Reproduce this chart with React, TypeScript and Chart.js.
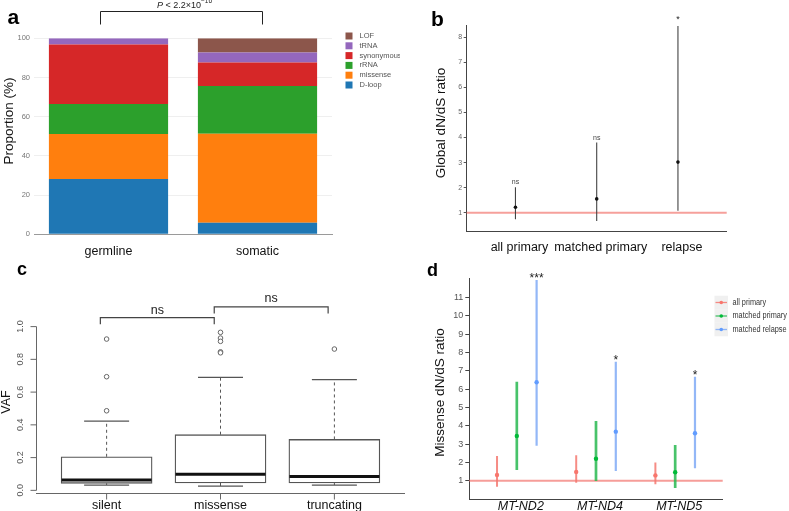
import React, { useEffect, useRef } from "react";
import { Chart, registerables } from "chart.js";

Chart.register(...registerables);

const FONT = "'Liberation Sans', Arial, Helvetica, sans-serif";

// ---------------- Panel a : stacked proportions ----------------
const aCategories = ["germline", "somatic"];
const aSeriesNames = ["D-loop", "missense", "rRNA", "synonymous", "tRNA", "LOF"];
const aDloop = [28.2, 5.9];
const aMissense = [23.0, 45.4];
const aRrna = [15.3, 24.4];
const aSynonymous = [30.3, 11.9];
const aTrna = [3.2, 5.1];
const aLof = [0, 7.3];
const aYTicks = [0, 20, 40, 60, 80, 100];
const aColors = ["#1f77b4", "#ff7f0e", "#2ca02c", "#d62728", "#9467bd", "#8c564b"];

// ---------------- Panel b : global dN/dS ----------------
const bCategories = ["all primary", "matched primary", "relapse"];
const bEstimate = [1.22, 1.55, 3.02];
const bLower = [0.74, 0.67, 1.08];
const bUpper = [2.02, 3.8, 8.45];
const bSignif = ["ns", "ns", "*"];
const bYTicks = [1, 2, 3, 4, 5, 6, 7, 8];

// ---------------- Panel c : VAF boxplots ----------------
const cCategories = ["silent", "missense", "truncating"];
const cWhiskerLow = [0.032, 0.026, 0.032];
const cQ1 = [0.043, 0.045, 0.045];
const cMedian = [0.063, 0.098, 0.085];
const cQ3 = [0.205, 0.34, 0.311];
const cWhiskerHigh = [0.423, 0.69, 0.676];
const cOutliersSilent = [0.924, 0.694, 0.486];
const cOutliersMissense = [0.965, 0.93, 0.91, 0.846, 0.84];
const cOutliersTruncating = [0.863];
const cYTicks = [0, 0.2, 0.4, 0.6, 0.8, 1.0];
const cComparisonLabels = ["ns", "ns"];

// ---------------- Panel d : missense dN/dS per gene ----------------
const dGenes = ["MT-ND2", "MT-ND4", "MT-ND5"];
const dGroups = ["all primary", "matched primary", "matched relapse"];
const dAllPrimaryEst = [1.31, 1.48, 1.29];
const dAllPrimaryLow = [0.67, 0.89, 0.8];
const dAllPrimaryHigh = [2.35, 2.39, 2.0];
const dMatchedPrimaryEst = [3.44, 2.2, 1.46];
const dMatchedPrimaryLow = [1.58, 0.98, 0.6];
const dMatchedPrimaryHigh = [6.41, 4.26, 2.95];
const dMatchedRelapseEst = [6.38, 3.68, 3.59];
const dMatchedRelapseLow = [2.91, 1.53, 1.68];
const dMatchedRelapseHigh = [11.97, 7.5, 6.68];
const dSignif = ["***", "*", "*"];
const dYTicks = [1, 2, 3, 4, 5, 6, 7, 8, 9, 10, 11];

// ---------------- helpers ----------------
const setTicks = (vals: number[]) => (scale: any) => {
  scale.ticks = vals.map((v) => ({ value: v }));
};
const fixW = (w: number) => (s: any) => {
  s.width = w;
  s.paddingTop = 0;
  s.paddingBottom = 0;
  s.paddingLeft = 0;
  s.paddingRight = 0;
};
const fixH = (h: number) => (s: any) => {
  s.height = h;
  s.paddingTop = 0;
  s.paddingBottom = 0;
  s.paddingLeft = 0;
  s.paddingRight = 0;
};

function txt(
  ctx: any,
  s: string,
  x: number,
  y: number,
  font: string,
  color: string,
  align = "center",
  baseline = "middle",
  rot = 0,
  sx = 1
) {
  ctx.save();
  ctx.translate(x, y);
  if (rot) ctx.rotate(rot);
  if (sx !== 1) ctx.scale(sx, 1);
  ctx.font = font;
  ctx.fillStyle = color;
  ctx.textAlign = align;
  ctx.textBaseline = baseline;
  ctx.fillText(s, 0, 0);
  ctx.restore();
}

function line(ctx: any, pts: number[][], color: string, width: number, dash: number[] = []) {
  ctx.save();
  ctx.strokeStyle = color;
  ctx.lineWidth = width;
  ctx.setLineDash(dash);
  ctx.beginPath();
  pts.forEach((p, i) => (i === 0 ? ctx.moveTo(p[0], p[1]) : ctx.lineTo(p[0], p[1])));
  ctx.stroke();
  ctx.restore();
}

const baseOptions = {
  responsive: false,
  maintainAspectRatio: false,
  animation: false,
  devicePixelRatio: 1,
  events: [],
};

// ---------------- Panel a ----------------
const panelAPlugin = {
  id: "panelA",
  afterDraw(chart: any) {
    const ctx = chart.ctx;
    const x = chart.scales.x;
    txt(ctx, "a", 7.5, 24, `bold 21px ${FONT}`, "#000", "left", "alphabetic");
    // comparison bracket
    const x1 = Math.round(x.getPixelForValue(0) - 8.5) + 0.5;
    const x2 = Math.round(x.getPixelForValue(1) + 4.5) + 0.5;
    line(ctx, [[x1, 24.5], [x1, 11.5], [x2, 11.5], [x2, 24.5]], "#222", 1);
    // P value text
    ctx.save();
    const fI = `italic 9px ${FONT}`;
    const fN = `9px ${FONT}`;
    const fS = `6.5px ${FONT}`;
    ctx.font = fI;
    const w1 = ctx.measureText("P").width;
    ctx.font = fN;
    const w2 = ctx.measureText(" < 2.2×10").width;
    ctx.font = fS;
    const w3 = ctx.measureText("−16").width;
    let sx = (x1 + x2) / 2 + 3 - (w1 + w2 + w3) / 2;
    ctx.restore();
    txt(ctx, "P", sx, 7.5, fI, "#222", "left", "alphabetic");
    sx += w1;
    txt(ctx, " < 2.2×10", sx, 7.5, fN, "#222", "left", "alphabetic");
    sx += w2;
    txt(ctx, "−16", sx, 3, fS, "#222", "left", "alphabetic");
    // legend (reverse order: top is last series)
    const order = aSeriesNames.map((_, i) => i).reverse();
    order.forEach((si, row) => {
      const cy = 36 + row * 9.8;
      ctx.save();
      ctx.fillStyle = aColors[si];
      ctx.fillRect(345.5, cy - 3.5, 7, 7);
      ctx.restore();
      txt(ctx, aSeriesNames[si], 359.5, cy, `7.5px ${FONT}`, "#555", "left", "middle");
    });
    // y title
    txt(ctx, "Proportion (%)", 9.5, 121, `13.5px ${FONT}`, "#111", "center", "middle", -Math.PI / 2);
  },
};

function makeA() {
  const values = [aDloop, aMissense, aRrna, aSynonymous, aTrna, aLof];
  return {
    type: "bar",
    data: {
      labels: aCategories,
      datasets: aSeriesNames.map((name, i) => ({
        label: name,
        data: values[i],
        backgroundColor: aColors[i],
        borderWidth: 0,
        barPercentage: 0.8,
        categoryPercentage: 1.0,
        order: i,
      })),
    },
    options: {
      ...baseOptions,
      layout: { padding: { left: 0, right: 68, top: 38.3, bottom: 0 } },
      plugins: { legend: { display: false }, tooltip: { enabled: false } },
      scales: {
        x: {
          stacked: true,
          grid: { display: false },
          border: { display: true, color: "#9a9a9a", width: 1 },
          ticks: { font: { family: FONT, size: 12.5 }, color: "#111", padding: 1.5 },
          afterFit: fixH(25.7),
        },
        y: {
          stacked: true,
          min: 0,
          max: 100,
          grid: {
            color: (c: any) => (c.tick && c.tick.value === 0 ? "rgba(0,0,0,0)" : "#efefef"),
            drawTicks: false,
          },
          border: { display: false },
          ticks: { font: { family: FONT, size: 7.5 }, color: "#777", padding: 4 },
          afterBuildTicks: setTicks(aYTicks),
          afterFit: fixW(34),
        },
      },
    },
    plugins: [panelAPlugin],
  };
}

// ---------------- Panel b ----------------
const panelBPlugin = {
  id: "panelB",
  beforeDatasetsDraw(chart: any) {
    const { ctx, chartArea } = chart;
    const y = chart.scales.y.getPixelForValue(1);
    line(ctx, [[chartArea.left, y], [chartArea.right, y]], "rgba(242,120,112,0.7)", 2);
  },
  afterDatasetsDraw(chart: any) {
    const ctx = chart.ctx;
    const xs = chart.scales.x;
    const ys = chart.scales.y;
    bSignif.forEach((s, i) => {
      const px = xs.getPixelForValue(i + 1);
      const py = ys.getPixelForValue(bUpper[i]);
      if (s === "*") txt(ctx, s, px, py - 4.5, `9px ${FONT}`, "#222", "center", "alphabetic");
      else txt(ctx, s, px, py - 2.8, `7px ${FONT}`, "#444", "center", "alphabetic");
    });
  },
  afterDraw(chart: any) {
    const ctx = chart.ctx;
    txt(ctx, "b", 31, 26, `bold 21px ${FONT}`, "#000", "left", "alphabetic");
    txt(ctx, "Global dN/dS ratio", 41.5, 123, `13.5px ${FONT}`, "#111", "center", "middle", -Math.PI / 2);
  },
};

function makeB() {
  return {
    type: "scatter",
    data: {
      datasets: [
        {
          type: "scatter",
          label: "estimate",
          data: bCategories.map((_, i) => ({ x: i + 1, y: bEstimate[i] })),
          pointRadius: 1.8,
          backgroundColor: "#111",
          borderWidth: 0,
        },
        {
          type: "bar",
          label: "95% CI",
          data: bCategories.map((_, i) => ({ x: i + 1, y: [bLower[i], bUpper[i]] })),
          backgroundColor: "#444",
          borderWidth: 0,
          inflateAmount: 0,
          grouped: false,
          barThickness: 1.1,
          maxBarThickness: 1.1,
        },
      ],
    },
    options: {
      ...baseOptions,
      layout: { padding: { left: 0, right: 62.3, top: 25, bottom: 0 } },
      plugins: { legend: { display: false }, tooltip: { enabled: false } },
      scales: {
        x: {
          type: "linear",
          min: 0.4,
          max: 3.6,
          offset: false,
          grid: { display: false, offset: false },
          border: { display: true, color: "#444", width: 1 },
          ticks: {
            font: { family: FONT, size: 12.5 },
            color: "#111",
            padding: 1,
            labelOffset: 4,
            maxRotation: 0,
            minRotation: 0,
            autoSkip: false,
            callback: (v: number) => bCategories[Math.round(v) - 1] ?? "",
          },
          afterBuildTicks: setTicks([1, 2, 3]),
          afterFit: fixH(29),
        },
        y: {
          type: "linear",
          min: 0.27,
          max: 8.49,
          grid: { display: true, drawOnChartArea: false, drawTicks: true, tickLength: 3, color: "#555" },
          border: { display: true, color: "#444", width: 1 },
          ticks: { font: { family: FONT, size: 7 }, color: "#666", padding: 1.5 },
          afterBuildTicks: setTicks(bYTicks),
          afterFit: fixW(66.7),
        },
      },
    },
    plugins: [panelBPlugin],
  };
}

// ---------------- Panel c ----------------
const panelCPlugin = {
  id: "panelC",
  beforeDatasetsDraw(chart: any) {
    const ctx = chart.ctx;
    const xs = chart.scales.x;
    const ys = chart.scales.y;
    cCategories.forEach((_, i) => {
      const px = xs.getPixelForValue(i + 1);
      line(ctx, [[px, ys.getPixelForValue(cQ3[i])], [px, ys.getPixelForValue(cWhiskerHigh[i])]], "#555", 1, [3, 3]);
      line(ctx, [[px, ys.getPixelForValue(cQ1[i])], [px, ys.getPixelForValue(cWhiskerLow[i])]], "#555", 1, [3, 3]);
      const hy = ys.getPixelForValue(cWhiskerHigh[i]);
      const ly = ys.getPixelForValue(cWhiskerLow[i]);
      line(ctx, [[px - 22.5, hy], [px + 22.5, hy]], "#555", 1.2);
      line(ctx, [[px - 22.5, ly], [px + 22.5, ly]], "#555", 1.2);
    });
  },
  afterDatasetsDraw(chart: any) {
    const ctx = chart.ctx;
    const xs = chart.scales.x;
    const ys = chart.scales.y;
    cCategories.forEach((_, i) => {
      const px = xs.getPixelForValue(i + 1);
      const my = ys.getPixelForValue(cMedian[i]);
      line(ctx, [[px - 45, my], [px + 45, my]], "#111", 3);
    });
  },
  afterDraw(chart: any) {
    const { ctx, chartArea } = chart;
    const xs = chart.scales.x;
    const ys = chart.scales.y;
    const ax = Math.round(chartArea.left) + 0.5;
    // y axis
    line(ctx, [[ax, ys.getPixelForValue(0)], [ax, ys.getPixelForValue(1)]], "#666", 1);
    cYTicks.forEach((v) => {
      const py = ys.getPixelForValue(v);
      line(ctx, [[ax - 6, py], [ax, py]], "#666", 1);
      txt(ctx, v.toFixed(1), 21, py, `9px ${FONT}`, "#555", "center", "middle", -Math.PI / 2);
    });
    // x axis
    const by = Math.round(chartArea.bottom) + 0.5;
    line(ctx, [[chartArea.left, by], [chartArea.right, by]], "#666", 1);
    cCategories.forEach((c, i) => {
      const px = xs.getPixelForValue(i + 1);
      line(ctx, [[px, by], [px, by + 6]], "#666", 1);
      txt(ctx, c, px, by + 12, `12.5px ${FONT}`, "#111", "center", "middle");
    });
    // comparison brackets
    const brackets = [
      { a: 1, b: 2, top: 1.055, leg: 1.015, lab: 1.1 },
      { a: 2, b: 3, top: 1.12, leg: 1.08, lab: 1.17 },
    ];
    brackets.forEach((br, k) => {
      const x1 = xs.getPixelForValue(br.a - 0.055);
      const x2 = xs.getPixelForValue(br.b - 0.055);
      const yt = ys.getPixelForValue(br.top);
      const yl = ys.getPixelForValue(br.leg);
      line(ctx, [[x1, yl], [x1, yt], [x2, yt], [x2, yl]], "#444", 1.2);
      txt(ctx, cComparisonLabels[k], (x1 + x2) / 2, ys.getPixelForValue(br.lab), `12.5px ${FONT}`, "#222", "center", "middle");
    });
    txt(ctx, "c", 17, 20, `bold 18px ${FONT}`, "#000", "left", "alphabetic");
    txt(ctx, "VAF", 6.5, 147, `12.5px ${FONT}`, "#111", "center", "middle", -Math.PI / 2);
  },
};

function makeC() {
  const outliers = [
    ...cOutliersSilent.map((v) => ({ x: 1, y: v })),
    ...cOutliersMissense.map((v) => ({ x: 2, y: v })),
    ...cOutliersTruncating.map((v) => ({ x: 3, y: v })),
  ];
  return {
    type: "scatter",
    data: {
      datasets: [
        {
          type: "scatter",
          label: "outliers",
          data: outliers,
          pointRadius: 2.3,
          pointBackgroundColor: "#fff",
          pointBorderColor: "#666",
          pointBorderWidth: 1,
        },
        {
          type: "bar",
          label: "IQR",
          data: cCategories.map((_, i) => ({ x: i + 1, y: [cQ1[i], cQ3[i]] })),
          backgroundColor: "#fff",
          borderColor: "#555",
          borderWidth: 1.3,
          borderSkipped: false,
          grouped: false,
          barThickness: 91,
          maxBarThickness: 91,
        },
      ],
    },
    options: {
      ...baseOptions,
      layout: { padding: { left: 36, right: 4.4, top: 40.5, bottom: 18.2 } },
      plugins: { legend: { display: false }, tooltip: { enabled: false } },
      scales: {
        x: { type: "linear", display: false, min: 0.38, max: 3.62, offset: false, grid: { offset: false } },
        y: { type: "linear", display: false, min: -0.015, max: 1.19 },
      },
    },
    plugins: [panelCPlugin],
  };
}

// ---------------- Panel d ----------------
const dColors = ["#F8766D", "#00BA38", "#619CFF"];
const dBarColors = ["rgba(244,120,112,0.85)", "rgba(40,184,80,0.85)", "rgba(120,165,245,0.8)"];
const dBarWidths = [2, 2.7, 2.2];
const dOffsets = [-0.25, 0, 0.25];

const panelDPlugin = {
  id: "panelD",
  beforeDatasetsDraw(chart: any) {
    const { ctx, chartArea } = chart;
    const y = chart.scales.y.getPixelForValue(1);
    line(ctx, [[chartArea.left, y], [chartArea.right, y]], "rgba(242,115,110,0.7)", 2);
  },
  afterDatasetsDraw(chart: any) {
    const ctx = chart.ctx;
    const xs = chart.scales.x;
    const ys = chart.scales.y;
    dSignif.forEach((s, i) => {
      const px = xs.getPixelForValue(i + 1 + dOffsets[2]);
      const py = ys.getPixelForValue(dMatchedRelapseHigh[i]);
      txt(ctx, s, px, py + 2, `12px ${FONT}`, "#222", "center", "alphabetic");
    });
  },
  afterDraw(chart: any) {
    const ctx = chart.ctx;
    // legend
    dGroups.forEach((g, i) => {
      const cy = 47.5 + i * 13.5;
      ctx.save();
      ctx.fillStyle = "#f0f0f0";
      ctx.fillRect(314.5, cy - 6.75, 13.5, 13.5);
      ctx.restore();
      line(ctx, [[315.5, cy], [327, cy]], dBarColors[i], 1.3);
      ctx.save();
      ctx.fillStyle = dColors[i];
      ctx.beginPath();
      ctx.arc(321.25, cy, 1.8, 0, Math.PI * 2);
      ctx.fill();
      ctx.restore();
      txt(ctx, g, 332.5, cy, `8.5px ${FONT}`, "#333", "left", "middle", 0, 0.86);
    });
    txt(ctx, "d", 27, 21, `bold 18px ${FONT}`, "#000", "left", "alphabetic");
    txt(ctx, "Missense dN/dS ratio", 40.5, 137.5, `13.5px ${FONT}`, "#111", "center", "middle", -Math.PI / 2);
  },
};

function makeD() {
  const est = [dAllPrimaryEst, dMatchedPrimaryEst, dMatchedRelapseEst];
  const low = [dAllPrimaryLow, dMatchedPrimaryLow, dMatchedRelapseLow];
  const high = [dAllPrimaryHigh, dMatchedPrimaryHigh, dMatchedRelapseHigh];
  const points = dGroups.map((g, k) => ({
    type: "scatter",
    label: g,
    data: dGenes.map((_, i) => ({ x: i + 1 + dOffsets[k], y: est[k][i] })),
    pointRadius: 2.2,
    backgroundColor: dColors[k],
    borderWidth: 0,
  }));
  const bars = dGroups.map((g, k) => ({
    type: "bar",
    label: g + " CI",
    data: dGenes.map((_, i) => ({ x: i + 1 + dOffsets[k], y: [low[k][i], high[k][i]] })),
    backgroundColor: dBarColors[k],
    borderWidth: 0,
    inflateAmount: 0,
    grouped: false,
    barThickness: dBarWidths[k],
    maxBarThickness: dBarWidths[k],
  }));
  return {
    type: "scatter",
    data: { datasets: [...points, ...bars] },
    options: {
      ...baseOptions,
      layout: { padding: { left: 0, right: 66.3, top: 23.3, bottom: 0 } },
      plugins: { legend: { display: false }, tooltip: { enabled: false } },
      scales: {
        x: {
          type: "linear",
          min: 0.4,
          max: 3.6,
          offset: false,
          grid: { display: true, offset: false, drawOnChartArea: false, drawTicks: true, tickLength: 3, color: "#444" },
          border: { display: true, color: "#444", width: 1 },
          ticks: {
            font: { family: FONT, size: 12.5, style: "italic" },
            color: "#111",
            padding: -3,
            labelOffset: 4,
            maxRotation: 0,
            minRotation: 0,
            autoSkip: false,
            callback: (v: number) => dGenes[Math.round(v) - 1] ?? "",
          },
          afterBuildTicks: setTicks([1, 2, 3]),
          afterFit: fixH(12),
        },
        y: {
          type: "linear",
          min: 0,
          max: 12.06,
          grid: { display: true, drawOnChartArea: false, drawTicks: true, tickLength: 4, color: "#444" },
          border: { display: true, color: "#444", width: 1 },
          ticks: { font: { family: FONT, size: 9 }, color: "#555", padding: 2 },
          afterBuildTicks: setTicks(dYTicks),
          afterFit: fixW(69.3),
        },
      },
    },
    plugins: [panelDPlugin],
  };
}

// ---------------- components ----------------
function Panel({ left, top, width, height, make }: any) {
  const ref = useRef<HTMLCanvasElement>(null);
  useEffect(() => {
    const chart = new Chart(ref.current as HTMLCanvasElement, make() as any);
    return () => chart.destroy();
  }, [make]);
  return (
    <canvas
      ref={ref}
      width={width}
      height={height}
      style={{ position: "absolute", left, top, width, height }}
    />
  );
}

export default function App() {
  return (
    <div
      style={{
        position: "fixed",
        left: 0,
        top: 0,
        width: 789,
        height: 511,
        background: "#fff",
        overflow: "hidden",
      }}
    >
      <Panel left={0} top={0} width={400} height={260} make={makeA} />
      <Panel left={400} top={0} width={389} height={260} make={makeB} />
      <Panel left={0} top={255} width={410} height={256} make={makeC} />
      <Panel left={400} top={255} width={389} height={256} make={makeD} />
    </div>
  );
}
